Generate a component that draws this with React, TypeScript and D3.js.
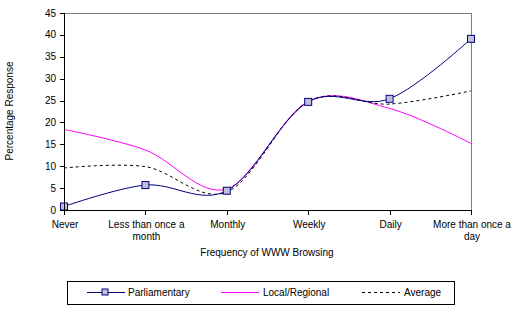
import React from 'react';
import * as d3 from "d3";

const width = 524;
const height = 326;

const categories = ["Never", "Less than once a month", "Monthly", "Weekly", "Daily", "More than once a day"];
const categoryLines = [["Never"], ["Less than once a", "month"], ["Monthly"], ["Weekly"], ["Daily"], ["More than once a", "day"]];
const parliamentary = [0.8, 5.7, 4.4, 24.7, 25.4, 39.1];
const localRegional = [18.4, 13.7, 4.8, 24.8, 23.2, 15.2];
const average = [9.6, 9.9, 4.1, 24.8, 24.2, 27.2];
const yTicks = [0, 5, 10, 15, 20, 25, 30, 35, 40, 45];

const left = 64;
const right = 471;
const top = 13;
const bottom = 210;

const x = d3.scalePoint<string>().domain(categories).range([left, right]);
const y = d3.scaleLinear().domain([0, 45]).range([bottom, top]);

const line = d3.line<number>()
  .x((d, i) => x(categories[i]) as number)
  .y(d => y(d))
  .curve(d3.curveCardinal.tension(0));

const font = "Arial, 'Liberation Sans', sans-serif";

const App = () => {
  return (
    <svg width={width} height={height} style={{ position: "absolute", left: 0, top: 0 }} fontFamily={font} fontSize={10}>
      <rect x={0} y={0} width={width} height={height} fill="white" />
      {/* plot frame */}
      <line x1={left} x2={right} y1={top + 0.5} y2={top + 0.5} stroke="#808080" />
      <line x1={right + 0.5} x2={right + 0.5} y1={top} y2={bottom} stroke="#808080" />

      {/* lines */}
      <path d={line(localRegional) ?? ""} fill="none" stroke="#ff00ff" strokeWidth={1} />
      <path d={line(average) ?? ""} fill="none" stroke="black" strokeWidth={1} strokeDasharray="3,3" />
      <path d={line(parliamentary) ?? ""} fill="none" stroke="#000080" strokeWidth={1} />
      {parliamentary.map((d, i) => (
        <rect key={i} x={(x(categories[i]) as number) - 3.5} y={y(d) - 3.5} width={7} height={7}
          fill="#c0c0d8" stroke="#000080" strokeWidth={1} />
      ))}

      {/* y axis */}
      <line x1={left + 0.5} x2={left + 0.5} y1={top} y2={bottom} stroke="black" />
      {yTicks.map(t => (
        <g key={t}>
          <line x1={left - 4} x2={left} y1={Math.round(y(t)) + 0.5} y2={Math.round(y(t)) + 0.5} stroke="black" />
          <text x={left - 8} y={y(t)} dy="0.35em" textAnchor="end">{t}</text>
        </g>
      ))}

      {/* x axis */}
      <line x1={left} x2={right + 1} y1={bottom + 0.5} y2={bottom + 0.5} stroke="black" />
      {categories.map((c, i) => (
        <g key={c}>
          <line x1={Math.round(x(c) as number) + 0.5} x2={Math.round(x(c) as number) + 0.5} y1={bottom} y2={bottom + 5} stroke="black" />
          {categoryLines[i].map((l, j) => (
            <text key={j} x={(x(c) as number) + 1} y={bottom + 18 + j * 12} textAnchor="middle">{l}</text>
          ))}
        </g>
      ))}

      <text x={267} y={256} textAnchor="middle">Frequency of WWW Browsing</text>
      <text transform={`translate(13,111) rotate(-90)`} textAnchor="middle">Percentage Response</text>

      {/* legend */}
      <rect x={67.5} y={281.5} width={387} height={23} fill="white" stroke="black" />
      <line x1={87} x2={125} y1={292.5} y2={292.5} stroke="#000080" />
      <rect x={102} y={289} width={6} height={6} fill="#c0c0d8" stroke="#000080" />
      <text x={128} y={292} dy="0.35em">Parliamentary</text>
      <line x1={221} x2={259} y1={292.5} y2={292.5} stroke="#ff00ff" />
      <text x={263} y={292} dy="0.35em">Local/Regional</text>
      <line x1={362} x2={400} y1={292.5} y2={292.5} stroke="black" strokeDasharray="3,3" />
      <text x={404} y={292} dy="0.35em">Average</text>
    </svg>
  );
};

export default App;
